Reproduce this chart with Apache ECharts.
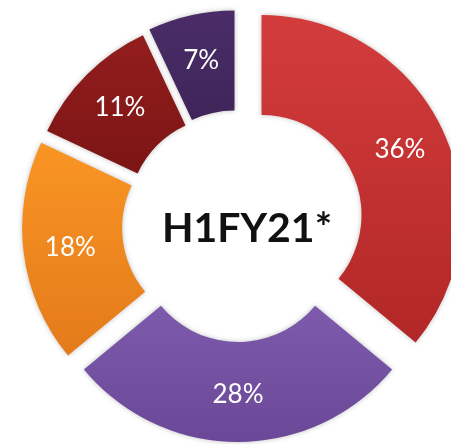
<!DOCTYPE html>
<html>
<head>
<meta charset="utf-8">
<script src="https://cdn.jsdelivr.net/npm/echarts@6/dist/echarts.min.js"></script>
<style>
  html, body { margin: 0; padding: 0; background: #fff; }
  #chart { width: 451px; height: 444px; }
</style>
</head>
<body>
<div id="chart"></div>
<script>
const categories = ['A', 'B', 'C', 'D', 'E'];
const shares = [36, 28, 18, 11, 7];
const centerLabel = 'H1FY21*';
// gradient top/bottom per slice
const colorsTop = ['#d43c3c', '#7d5aab', '#f99524', '#931d1d', '#4a2d68'];
const colorsBottom = ['#b22727', '#6a4897', '#e47a1a', '#7c1515', '#3f2459'];
// how far each slice is pulled out from the centre (px)
const explode = [26, 16, 16, 14, 16];

const base = [238, 226];
const total = shares.reduce((a, b) => a + b, 0);

const chart = echarts.init(document.getElementById('chart'));

// one pie per slice so each one can be pulled out on its own (exploded donut)
let acc = 0;
const series = shares.map((v, k) => {
  const mid = (acc + v / 2) / total * 2 * Math.PI;
  acc += v;
  const cx = base[0] + explode[k] * Math.sin(mid);
  const cy = base[1] - explode[k] * Math.cos(mid);
  return {
    type: 'pie',
    center: [cx, cy],
    radius: [100, 200],
    startAngle: 90,
    clockwise: true,
    silent: true,
    labelLine: { show: false },
    label: {
      show: false,
      position: 'inside',
      color: '#fff',
      fontSize: 26,
      fontFamily: "Lato, 'Open Sans', sans-serif",
      formatter: '{c}%'
    },
    data: categories.map((c, i) => i === k ? {
      name: c,
      value: shares[i],
      label: { show: true },
      itemStyle: {
        shadowBlur: 5,
        shadowColor: 'rgba(0,0,0,0.25)',
        color: new echarts.graphic.LinearGradient(0, 0, 0, 1, [
          { offset: 0, color: colorsTop[i] },
          { offset: 1, color: colorsBottom[i] }
        ])
      }
    } : {
      name: c,
      value: shares[i],
      itemStyle: { color: 'rgba(0,0,0,0)' }
    })
  };
});

chart.setOption({
  animation: false,
  graphic: [{
    type: 'text',
    x: 247,
    y: 229,
    style: {
      text: centerLabel,
      align: 'center',
      verticalAlign: 'middle',
      fill: '#111',
      font: "bold 41px Lato, 'Open Sans', sans-serif"
    },
    z: 100
  }],
  series: series
});
</script>
</body>
</html>
